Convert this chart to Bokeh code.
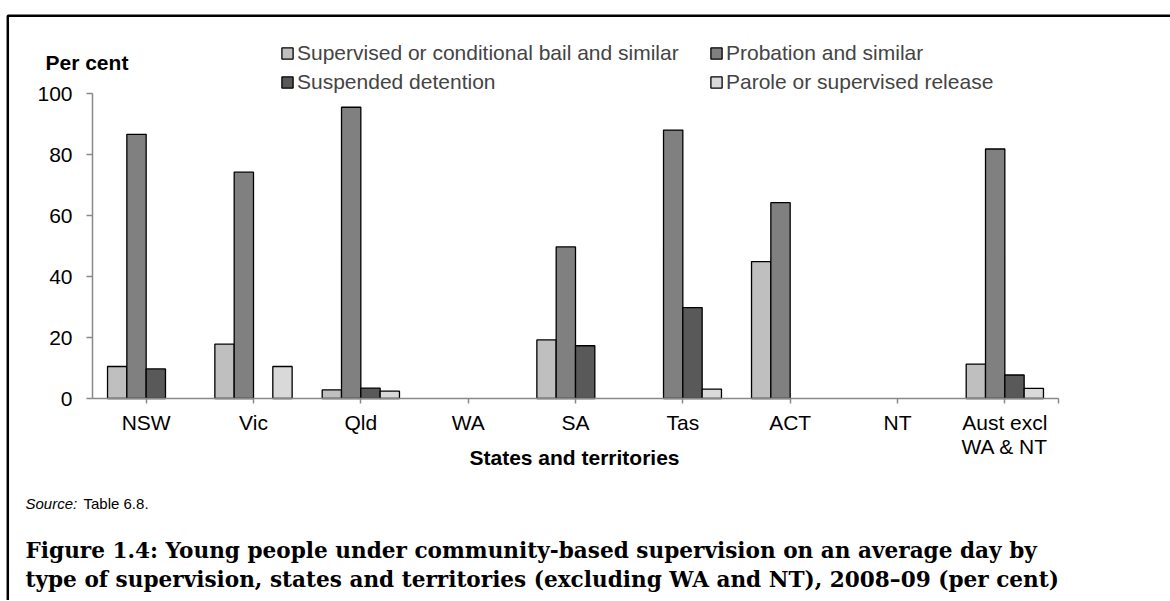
from bokeh.plotting import figure
from bokeh.models import (ColumnDataSource, Legend, LegendItem, Label,
                          FixedTicker, Range1d)
from bokeh.transform import dodge
from bokeh.embed import file_html
from bokeh.resources import INLINE

# ---------------- data ----------------
states = ["NSW", "Vic", "Qld", "WA", "SA", "Tas", "ACT", "NT", "Aust excl WA & NT"]
tick_labels = ["NSW", "Vic", "Qld", "WA", "SA", "Tas", "ACT", "NT", "Aust excl"]
bail = [10.5, 17.8, 2.8, 0, 19.2, 0, 44.9, 0, 11.3]
probation = [86.6, 74.2, 95.5, 0, 49.7, 88.0, 64.2, 0, 81.8]
suspended = [9.7, 0, 3.4, 0, 17.3, 29.8, 0, 0, 7.7]
parole = [0, 10.5, 2.4, 0, 0, 3.1, 0, 0, 3.3]
series_names = ["Supervised or conditional bail and similar", "Probation and similar",
                "Suspended detention", "Parole or supervised release"]
y_ticks = [0, 20, 40, 60, 80, 100]

# ---------------- styling / layout ----------------
colors = ["#BFBFBF", "#808080", "#595959", "#D9D9D9"]
offsets = [-0.27, -0.09, 0.09, 0.27]
BAR_W = 0.18

W, H = 1170, 600
FL, FR, Y0, Y100 = 92, 1058, 398, 93       # pixel positions of the value axes
n = len(states)
CW = (FR - FL) / n                          # pixels per category
PY = (Y0 - Y100) / 100.0                    # pixels per percentage point
xpos = [i + 0.5 for i in range(n)]


def dx(px):   # pixel column -> x data coordinate
    return (px - FL) / CW


def dy(py):   # pixel row -> y data coordinate
    return (Y0 - py) / PY


p = figure(width=W, height=H,
           x_range=Range1d(dx(0), dx(W)),
           y_range=Range1d(dy(H), dy(0)),
           output_backend="svg", toolbar_location=None,
           min_border=0, min_border_left=0, min_border_right=0,
           min_border_top=0, min_border_bottom=0)
p.outline_line_color = None
p.xgrid.grid_line_color = None
p.ygrid.grid_line_color = None
p.background_fill_color = "white"
p.border_fill_color = "white"

# page frame: top and left rules (ends run past the canvas and are clipped)
p.line(x=[dx(W + 20), dx(7.3), dx(7.3)], y=[dy(15.2), dy(15.2), dy(H + 20)],
       line_color="black", line_width=2.5)

renderers = []
for vals, name, col, off in zip([bail, probation, suspended, parole], series_names, colors, offsets):
    xs = [x for x, v in zip(xpos, vals) if v > 0]
    ys = [v for v in vals if v > 0]
    src = ColumnDataSource(dict(x=xs, top=ys))
    r = p.vbar(x=dodge("x", off), top="top", bottom=0, width=BAR_W,
               source=src, fill_color=col, line_color="black", line_width=1.3)
    renderers.append(r)

axis_col = "#898989"
# y axis
p.yaxis.fixed_location = 0
p.yaxis.bounds = (0, 100)
p.yaxis.ticker = FixedTicker(ticks=y_ticks)
p.yaxis.axis_line_color = axis_col
p.yaxis.axis_line_width = 1.5
p.yaxis.major_tick_line_color = axis_col
p.yaxis.major_tick_line_width = 1.5
p.yaxis.major_tick_out = 6
p.yaxis.major_tick_in = 0
p.yaxis.minor_tick_line_color = None
p.yaxis.major_label_standoff = 14
p.yaxis.major_label_text_font = "Liberation Sans"
p.yaxis.major_label_text_font_size = "21px"
p.yaxis.major_label_text_color = "black"

# x axis (ticks at category centres plus one at the right end of the axis)
p.xaxis.fixed_location = 0
p.xaxis.bounds = (0, n)
p.xaxis.ticker = FixedTicker(ticks=xpos + [n])
overrides = {x: t for x, t in zip(xpos, tick_labels)}
overrides[n] = ""
p.xaxis.major_label_overrides = overrides
p.xaxis.axis_line_color = axis_col
p.xaxis.axis_line_width = 1.5
p.xaxis.major_tick_line_color = axis_col
p.xaxis.major_tick_line_width = 1.5
p.xaxis.major_tick_out = 5
p.xaxis.major_tick_in = 0
p.xaxis.minor_tick_line_color = None
p.xaxis.major_label_standoff = 7
p.xaxis.major_label_text_font = "Liberation Sans"
p.xaxis.major_label_text_font_size = "21px"
p.xaxis.major_label_text_color = "black"


def lab(text, px, py, size="21px", font="Liberation Sans", style="normal", align="left"):
    p.add_layout(Label(x=px, y=H - py, x_units="screen", y_units="screen", text=text,
                       text_font=font, text_font_size=size, text_font_style=style,
                       text_align=align, text_baseline="middle", text_color="black"))


lab("WA & NT", FL + CW * (n - 0.5), 446, align="center")
lab("Per cent", 45, 62, style="bold")
lab("States and territories", 574, 457, style="bold", align="center")
lab("Source:", 25, 503, size="15px", style="italic")
lab("Table 6.8.", 83, 503, size="15px")
lab("Figure 1.4: Young people under community-based supervision on an average day by",
    25, 550, size="21.6px", font="DejaVu Serif", style="bold")
lab("type of supervision, states and territories (excluding WA and NT), 2008\u201309 (per cent)",
    25, 579, size="21.6px", font="DejaVu Serif", style="bold")

leg_common = dict(border_line_color=None, background_fill_alpha=0, padding=0, margin=0,
                  spacing=5, glyph_width=14, glyph_height=14, label_standoff=3,
                  label_text_font="Liberation Sans", label_text_font_size="21px",
                  orientation="vertical")
leg1 = Legend(items=[LegendItem(label=series_names[0], renderers=[renderers[0]]),
                     LegendItem(label=series_names[2], renderers=[renderers[2]])],
              location=(280, H - 94), **leg_common)
leg2 = Legend(items=[LegendItem(label=series_names[1], renderers=[renderers[1]]),
                     LegendItem(label=series_names[3], renderers=[renderers[3]])],
              location=(709, H - 94), **leg_common)
p.add_layout(leg1)
p.add_layout(leg2)

open("out.html", "w").write(file_html(p, INLINE))
